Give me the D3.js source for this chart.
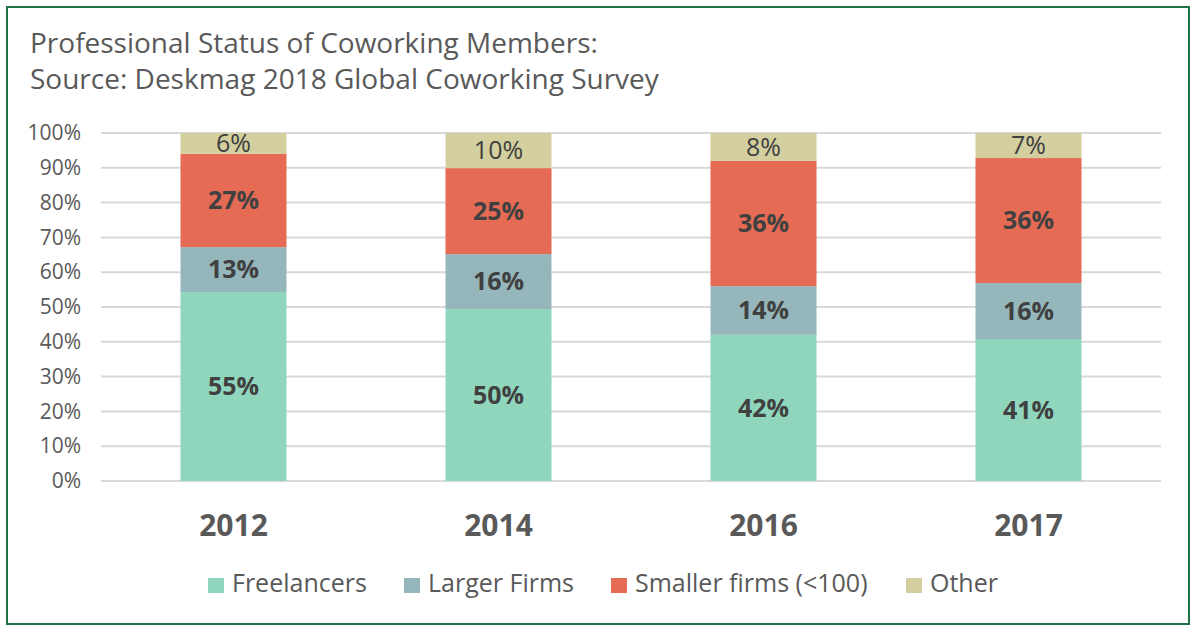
<!DOCTYPE html>
<html>
<head>
<meta charset="utf-8">
<script src="https://cdnjs.cloudflare.com/ajax/libs/d3/7.8.5/d3.min.js"></script>
<style>
  body { margin: 0; background: #fff; }
  svg { display: block; font-family: "Open Sans", sans-serif; }
</style>
</head>
<body>
<svg id="chart" width="1197" height="632"></svg>
<script>
// data (percent)
const years = ["2012", "2014", "2016", "2017"];
const series = ["Freelancers", "Larger Firms", "Smaller firms (<100)", "Other"];
const freelancers = [54.3, 49.4, 42.0, 40.8];
const largerFirms = [12.9, 15.8, 14.0, 16.1];
const smallerFirms = [26.8, 24.7, 36.0, 35.9];
const other = [6.0, 10.1, 8.0, 7.2];
const labels = [
  ["55%", "13%", "27%", "6%"],
  ["50%", "16%", "25%", "10%"],
  ["42%", "14%", "36%", "8%"],
  ["41%", "16%", "36%", "7%"]
];
const yTicks = [0, 10, 20, 30, 40, 50, 60, 70, 80, 90, 100];

const colors = ["#8fd6bd", "#95b7bb", "#e56b54", "#d3cf9f"];

const svg = d3.select("#chart");
const W = 1197, H = 632;
const margin = { left: 101, right: 36, top: 133, bottom: 151 };

svg.append("rect")
  .attr("x", 7).attr("y", 7)
  .attr("width", 1182).attr("height", 617)
  .attr("fill", "#fff")
  .attr("stroke", "#1e7145")
  .attr("stroke-width", 2);

svg.append("text")
  .attr("x", 30).attr("y", 53)
  .attr("font-size", 28).attr("fill", "#595959")
  .text("Professional Status of Coworking Members:");
svg.append("text")
  .attr("x", 30).attr("y", 89)
  .attr("font-size", 28).attr("fill", "#595959")
  .text("Source: Deskmag 2018 Global Coworking Survey");

const rows = years.map((yr, i) => ({
  year: yr,
  "Freelancers": freelancers[i],
  "Larger Firms": largerFirms[i],
  "Smaller firms (<100)": smallerFirms[i],
  "Other": other[i],
  idx: i
}));

const x = d3.scaleBand()
  .domain(years)
  .range([margin.left, W - margin.right])
  .paddingInner(0.6).paddingOuter(0.3);

const y = d3.scaleLinear()
  .domain([0, 100])
  .range([H - margin.bottom, margin.top])
  .clamp(true);

// gridlines
svg.append("g")
  .selectAll("line")
  .data(yTicks)
  .join("line")
  .attr("x1", margin.left).attr("x2", W - margin.right)
  .attr("y1", d => y(d)).attr("y2", d => y(d))
  .attr("stroke", "#d9d9d9").attr("stroke-width", 2);

// y axis labels
const yAxis = d3.axisLeft(y).tickValues(yTicks).tickFormat(d => d + "%").tickSize(0).tickPadding(0);
svg.append("g")
  .attr("transform", "translate(81,0)")
  .call(yAxis)
  .call(g => g.select(".domain").remove())
  .call(g => g.selectAll("text")
    .attr("font-family", "Open Sans, sans-serif")
    .attr("font-size", 21).attr("fill", "#595959"));

const stack = d3.stack().keys(series);
const stacked = stack(rows);

const layers = svg.append("g")
  .selectAll("g")
  .data(stacked)
  .join("g")
  .attr("fill", (d, i) => colors[i]);

layers.selectAll("rect")
  .data(d => d)
  .join("rect")
  .attr("x", d => x(d.data.year))
  .attr("width", x.bandwidth())
  .attr("y", d => y(d[1]))
  .attr("height", d => y(d[0]) - y(d[1]));

// segment labels
stacked.forEach((layer, si) => {
  svg.append("g")
    .selectAll("text")
    .data(layer)
    .join("text")
    .attr("x", d => x(d.data.year) + x.bandwidth() / 2)
    .attr("y", d => (y(d[0]) + y(d[1])) / 2)
    .attr("dy", "0.35em")
    .attr("text-anchor", "middle")
    .attr("font-size", 25)
    .attr("font-weight", si === 3 ? 400 : 700)
    .attr("fill", "#404040")
    .text(d => labels[d.data.idx][si]);
});

// x axis labels
const xAxis = d3.axisBottom(x).tickSize(0).tickPadding(0);
svg.append("g")
  .attr("transform", `translate(0,${H - margin.bottom})`)
  .call(xAxis)
  .call(g => g.select(".domain").remove())
  .call(g => g.selectAll("text")
    .attr("font-family", "Open Sans, sans-serif")
    .attr("font-size", 30).attr("font-weight", 700)
    .attr("fill", "#595959")
    .attr("dy", null)
    .attr("y", 55));

// legend
const legendX = [208, 404, 611, 906];
const legend = svg.append("g")
  .selectAll("g")
  .data(series)
  .join("g")
  .attr("transform", (d, i) => `translate(${legendX[i]},578)`);
legend.append("rect")
  .attr("width", 16).attr("height", 15)
  .attr("fill", (d, i) => colors[i]);
legend.append("text")
  .attr("x", 24).attr("y", 14)
  .attr("font-size", 25).attr("fill", "#595959")
  .text(d => d);
</script>
</body>
</html>
